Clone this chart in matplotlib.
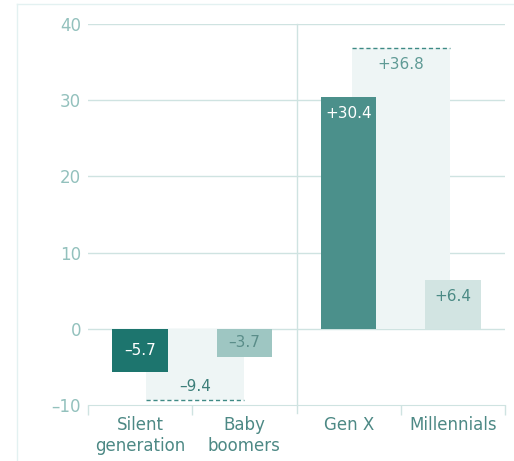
import matplotlib.pyplot as plt
from matplotlib.lines import Line2D

plt.rcParams['font.family'] = ['DejaVu Sans']

categories = ['Silent\ngeneration', 'Baby\nboomers', 'Gen X', 'Millennials']
values = [-5.7, -3.7, 30.4, 6.4]
value_labels = ['\u20135.7', '\u20133.7', '+30.4', '+6.4']
bar_colors = ['#1d756e', '#9ec6c2', '#4b908b', '#d2e4e2']
label_colors = ['white', '#5a8d89', 'white', '#4b8a85']

# group totals (shaded background bars)
total_pos = [0.53, 2.5]
totals = [-9.4, 36.8]
total_labels = ['\u20139.4', '+36.8']

yticks = [-10, 0, 10, 20, 30, 40]
ytick_labels = ['\u201310', '0', '10', '20', '30', '40']

grid_c = '#cfe3e1'
tick_c = '#93c1bd'
cat_c = '#4d8985'

fig = plt.figure(figsize=(5.14, 4.61), dpi=100)
ax = fig.add_axes([88 / 514, 1 - 405 / 461, 417 / 514, 381 / 461])

# shaded totals behind the bars
ax.bar(total_pos, totals, width=0.94, color='#eef5f5', zorder=1)
for x, t in zip(total_pos, totals):
    ax.hlines(t, x - 0.47, x + 0.47, colors='#3e8a85', linestyles=(0, (3, 2)),
              linewidth=1, zorder=3)

bars = ax.bar(range(4), values, width=0.53, color=bar_colors, zorder=2)

for i, v in enumerate(values):
    if v > 0:
        ax.annotate(value_labels[i], (i, v), xytext=(0, -12), textcoords='offset points',
                    ha='center', va='center', fontsize=11, color=label_colors[i], zorder=4)
    else:
        ax.text(i, v / 2, value_labels[i], ha='center', va='center', fontsize=11,
                color=label_colors[i], zorder=4)

ax.annotate(total_labels[0], (total_pos[0], totals[0]), xytext=(0, 10), textcoords='offset points',
            ha='center', va='center', fontsize=11, color='#3d7f7a', zorder=4)
ax.annotate(total_labels[1], (total_pos[1], totals[1]), xytext=(0, -11.5), textcoords='offset points',
            ha='center', va='center', fontsize=11, color='#5f9a95', zorder=4)

ax.set_xlim(-0.5, 3.5)
ax.set_ylim(-10, 40)
ax.set_yticks(yticks)
ax.set_yticklabels(ytick_labels)
ax.tick_params(axis='y', length=0, pad=5, labelsize=12, labelcolor=tick_c)
for y in yticks[1:]:
    ax.axhline(y, color=grid_c, linewidth=1, zorder=0.5)

# category ticks at the boundaries, labels at centres
ax.set_xticks([-0.5, 0.5, 2.5, 3.5])
ax.set_xticklabels([])
ax.set_xticks(range(4), minor=True)
ax.set_xticklabels(categories, minor=True)
ax.tick_params(axis='x', which='major', length=7, width=1, color=grid_c, direction='out')
ax.tick_params(axis='x', which='minor', length=0, pad=8, labelsize=12, labelcolor=cat_c)

# divider between the two groups
ax.axvline(1.5, ymin=-0.02, ymax=1, color=grid_c, linewidth=1, clip_on=False, zorder=0.5)

for s in ['top', 'right', 'left']:
    ax.spines[s].set_visible(False)
ax.spines['bottom'].set_color(grid_c)

# faint outer frame
fig.add_artist(Line2D([17 / 514, 17 / 514], [0, 1 - 4 / 461], color='#e3f1f1', linewidth=1))
fig.add_artist(Line2D([17 / 514, 1], [1 - 4 / 461, 1 - 4 / 461], color='#e3f1f1', linewidth=1))

fig.savefig('out.png', dpi=100)
